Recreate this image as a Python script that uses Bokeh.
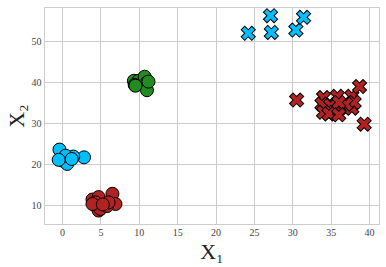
from bokeh.plotting import figure
from bokeh.models import Range1d, FixedTicker
from bokeh.embed import file_html
from bokeh.resources import INLINE

# cluster data
blue_c_x = [-0.4, 0.0, 0.9, 2.8, 1.4, 0.6, 0.4, -0.5, 1.2]
blue_c_y = [23.6, 20.9, 21.1, 21.7, 21.9, 20.1, 22.1, 21.1, 21.3]

red_c_x = [3.9, 4.7, 6.5, 6.9, 4.3, 4.5, 4.7, 4.95, 5.8, 3.9, 6.0, 5.25]
red_c_y = [11.4, 12.0, 12.8, 10.3, 10.7, 9.5, 8.7, 9.1, 9.8, 10.3, 10.7, 10.2]

green_c_x = [9.3, 9.9, 10.7, 11.0, 11.0, 9.4, 9.5, 11.2]
green_c_y = [40.4, 40.4, 41.4, 40.0, 38.1, 39.4, 39.2, 40.2]

blue_x_x = [24.2, 27.1, 27.2, 30.4, 31.4]
blue_x_y = [52.0, 56.3, 52.2, 52.8, 55.9]

red_x_x = [30.5, 34.0, 35.8, 37.7, 38.7, 39.3, 33.8, 34.9, 36.2, 35.4, 34.0,
           37.7, 38.0, 36.9, 36.0, 34.7, 36.0]
red_x_y = [35.7, 36.3, 36.6, 36.6, 39.0, 29.8, 34.7, 34.4, 33.8, 32.7, 32.7,
           33.7, 35.1, 34.7, 35.1, 32.3, 32.1]

x_ticks = [0, 5, 10, 15, 20, 25, 30, 35, 40]
y_ticks = [10, 20, 30, 40, 50]
x_label = "X₁"
y_label = "X₂"

p = figure(width=386, height=267, output_backend="svg", toolbar_location=None,
           x_range=Range1d(-2.35, 41.3), y_range=Range1d(5.3, 58.3),
           min_border_left=44, min_border_right=7, min_border_top=7,
           min_border_bottom=43)
p.background_fill_color = "white"
p.border_fill_color = "white"
p.outline_line_color = "#cccccc"
p.outline_line_width = 1

for ax in (p.xaxis, p.yaxis):
    ax.axis_line_color = None
    ax.major_tick_line_color = None
    ax.minor_tick_line_color = None
    ax.major_tick_out = 0
    ax.major_tick_in = 0
    ax.minor_tick_out = 0
    ax.minor_tick_in = 0
    ax.major_label_text_font = "Liberation Serif"
    ax.major_label_text_font_size = "10px"
    ax.major_label_text_color = "#444444"
    ax.axis_label_text_font = "Liberation Serif"
    ax.axis_label_text_font_size = "22px"
    ax.axis_label_text_font_style = "normal"
    ax.axis_label_text_color = "#222222"
    ax.axis_label_standoff = 0

p.xaxis.major_label_standoff = 4
p.yaxis.major_label_standoff = 3

p.xaxis.ticker = FixedTicker(ticks=x_ticks)
p.yaxis.ticker = FixedTicker(ticks=y_ticks)
p.xaxis.axis_label = x_label
p.yaxis.axis_label = y_label

p.grid.grid_line_color = "#cccccc"
p.grid.grid_line_width = 1

p.scatter(blue_c_x, blue_c_y, size=13, marker="circle",
          fill_color="#00BFFF", line_color="black", line_width=1)
p.scatter(red_c_x, red_c_y, size=13, marker="circle",
          fill_color="#B22222", line_color="black", line_width=1)
p.scatter(green_c_x, green_c_y, size=13, marker="circle",
          fill_color="#228B22", line_color="black", line_width=1)

for xs, ys, col in ((blue_x_x, blue_x_y, "#00BFFF"), (red_x_x, red_x_y, "#B22222")):
    for x, y in zip(xs, ys):
        p.scatter([x], [y], marker="x", size=16, line_color="black", line_width=6)
        p.scatter([x], [y], marker="x", size=14, line_color=col, line_width=4)

open("out.html", "w").write(file_html(p, INLINE))
